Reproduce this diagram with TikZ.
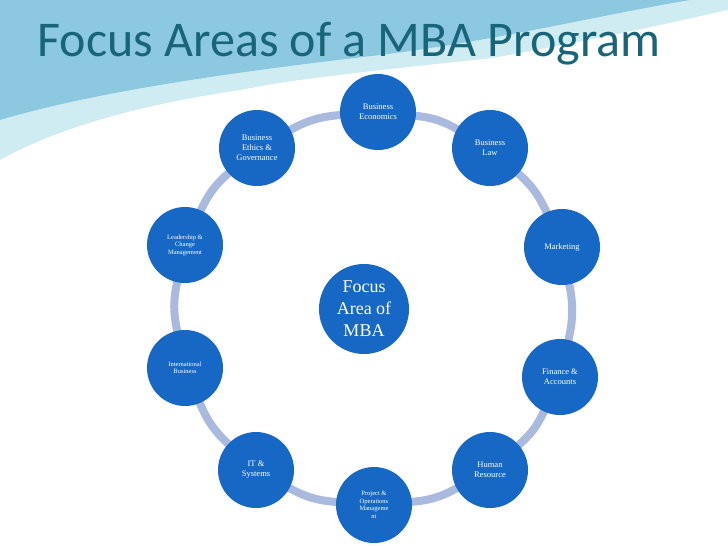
\documentclass[tikz,border=0pt]{standalone}
\usepackage{fontspec}
\setmainfont{Liberation Serif}
\newfontfamily\titlefont{Carlito}
\usepackage{tikz}
\usetikzlibrary{backgrounds}
\definecolor{areablue}{RGB}{22,104,196}
\definecolor{ringblue}{RGB}{170,186,222}
\definecolor{titleteal}{RGB}{24,100,120}
\definecolor{wave}{RGB}{140,200,224}
\definecolor{wavelight}{RGB}{206,236,242}

\begin{document}
\begin{tikzpicture}[x=1pt,y=-1pt]
\tikzstyle{area}=[circle,fill=areablue,text=white,minimum size=76pt,inner sep=1pt,align=center,font=\fontsize{8.5}{10}\selectfont]
\tikzstyle{tiny}=[font=\fontsize{6.5}{7.5}\selectfont]
\tikzstyle{ring}=[line width=8pt,ringblue,bend left=12]

\useasboundingbox (0,0) rectangle (728,546);
\node[area,minimum size=90pt,font=\fontsize{18}{22}\selectfont] (mba) at (364,309) {Focus\\Area of\\MBA};
\node[area] (econ) at (378,112) {Business\\Economics};
\node[area] (law) at (490,148) {Business\\Law};
\node[area] (mkt) at (562,247) {Marketing};
\node[area] (fin) at (560,377) {Finance \&\\Accounts};
\node[area] (hr) at (490,470) {Human\\Resource};
\node[area,tiny] (proj) at (374,505) {Project \&\\Operations\\Manageme\\nt};
\node[area] (it) at (256,470) {IT \&\\Systems};
\node[area,tiny] (intl) at (185,368) {International\\Business};
\node[area,tiny] (lead) at (185,245) {Leadership \&\\Change\\Management};
\node[area] (ethics) at (257,148) {Business\\Ethics \&\\Governance};

\begin{pgfonlayer}{background}
% top wave
\fill[wavelight] (0,0) -- (728,0) -- (728,30) .. controls (600,50) and (450,60) .. (300,80)
  .. controls (150,100) and (60,150) .. (0,210) -- cycle;
\fill[wave] (0,0) -- (690,0) .. controls (600,15) and (500,40) .. (380,55)
  .. controls (250,70) and (100,90) .. (0,120) -- cycle;
\fill[white] (0,160) .. controls (100,105) and (250,85) .. (380,75)
  .. controls (500,60) and (640,30) .. (728,10) -- (728,40) .. controls (600,70) and (450,100) .. (300,120)
  .. controls (150,140) and (60,180) .. (0,220) -- cycle;
\fill[white] (0,210) -- (0,546) -- (728,546) -- (728,30) .. controls (600,70) and (450,100) .. (300,120) .. controls (150,140) and (60,170) .. (0,210);
\foreach \a/\b in {econ/law,law/mkt,mkt/fin,fin/hr,hr/proj,proj/it,it/intl,intl/lead,lead/ethics,ethics/econ}
  \draw[ring,shorten <=-2pt,shorten >=-2pt] (\a) to (\b);
\end{pgfonlayer}
\node[text=titleteal,font=\titlefont\fontsize{50}{54}\selectfont,anchor=west] (title) at (34,44) {Focus Areas of a MBA Program};
\end{tikzpicture}
\end{document}
